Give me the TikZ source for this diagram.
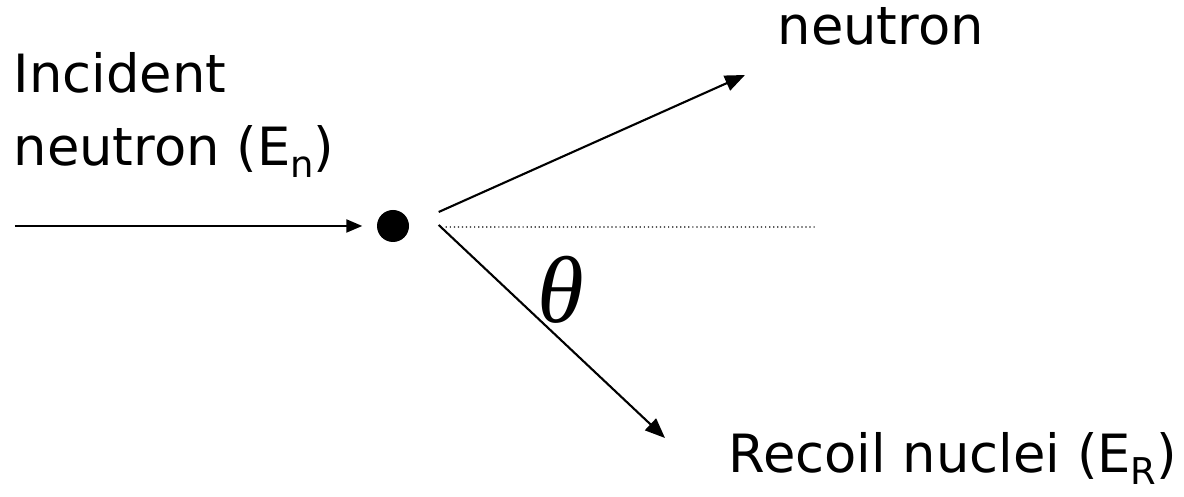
\documentclass[tikz,border=0pt]{standalone}
\usepackage{fontspec}
\setmainfont{DejaVu Sans}
\newfontfamily\thetafont{Liberation Serif}
\usetikzlibrary{arrows.meta, positioning}
\newcommand{\lowsub}[1]{\raisebox{-0.22em}{\fontsize{10.5}{12}\selectfont #1}}

\begin{document}
\begin{tikzpicture}[
    label/.style={
        inner sep=0pt,
        anchor=base west,
        font=\fontsize{15}{18}\selectfont
    },
    particle/.style={
        circle,
        fill=black,
        inner sep=0pt,
        minimum size=0.32cm
    },
    beam/.style={
        -{Triangle[length=0.16cm, width=0.13cm]},
        line width=0.6pt
    },
    scatter/.style={
        -{Triangle[length=0.2cm, width=0.16cm]},
        line width=0.6pt
    },
    axis/.style={
        line width=0.35pt,
        dash pattern=on 0.35pt off 0.8pt
    }
]
\useasboundingbox (0,0) rectangle (11.84,4.97);

% Nodes
\node (dot) [particle] at (3.93,2.71) {};
\node (incident) [label] at (0.13,4.04) {Incident};
\node (incneutron) [label] at (0.13,3.31) {neutron (E\lowsub{n})};
\node (outneutron) [label] at (7.77,4.52) {neutron};
\node (recoil) [label] at (7.28,0.24) {Recoil nuclei (E\lowsub{R})};
\node (theta) [inner sep=0pt, font=\fontsize{27}{30}\selectfont] at (5.61,2.07) {\thetafont\itshape θ};

% Coordinates
\coordinate (src) at (0.15,2.71);
\coordinate (upstart) at ([shift={(0.29,0.14)}]dot.east);
\coordinate (lowstart) at ([shift={(0.29,0.01)}]dot.east);
\coordinate (axisstart) at ([shift={(0.36,-0.01)}]dot.east);
\coordinate (outtip) at (7.45,4.22);
\coordinate (recoiltip) at (6.65,0.59);
\coordinate (axisend) at (8.17,2.70);

% Paths
\draw [beam, shorten >=0.14cm] (src) -- (dot.west);
\draw [scatter] (upstart) -- (outtip);
\draw [scatter] (lowstart) -- (recoiltip);
\draw [axis] (axisstart) -- (axisend);

\end{tikzpicture}
\end{document}
